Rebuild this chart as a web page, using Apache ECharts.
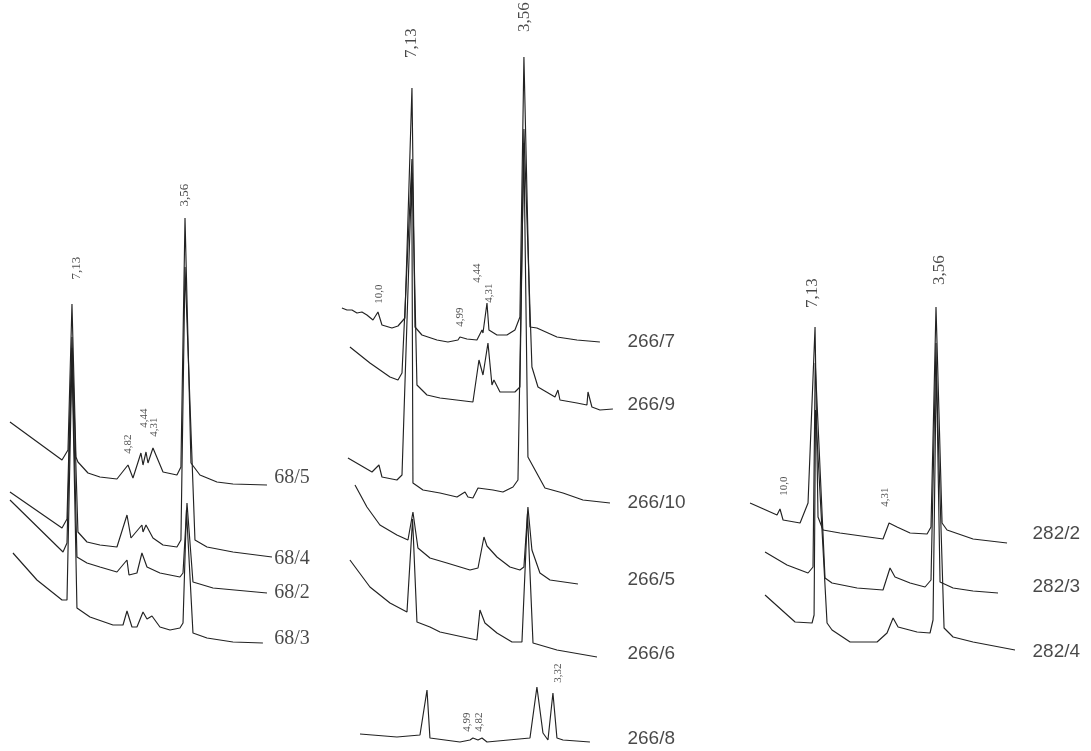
<!DOCTYPE html>
<html>
<head>
<meta charset="utf-8">
<script src="https://cdn.jsdelivr.net/npm/echarts@6/dist/echarts.min.js"></script>
<style>
  html, body { margin: 0; padding: 0; background: #fff; }
  #main { width: 1091px; height: 751px; }
</style>
</head>
<body>
<div id="main"></div>
<script>
// XRD patterns, x = 2theta (deg, CuKa), y = intensity (a.u.) above each trace's baseline

// ---- series 68 ----
const trace68_5 = [[5.55,63],[11.30,25],[11.96,35],[12.40,181],[12.84,28],[13.06,23],[14.17,12],[15.49,8],[17.37,6],[18.59,20],[19.14,7],[20.02,32],[20.25,20],[20.58,33],[20.80,22],[21.35,37],[22.46,13],[24.00,10],[24.44,18],[24.89,267],[25.55,22],[26.54,10],[28.42,3],[30.19,1],[33.95,0]];
const trace68_4 = [[5.55,65],[11.30,29],[11.85,38],[12.40,220],[13.06,25],[14.06,15],[15.49,12],[17.37,10],[18.48,42],[18.92,19],[20.13,32],[20.25,25],[20.58,32],[21.35,19],[22.46,12],[24.00,10],[24.44,17],[24.89,290],[25.99,17],[27.32,10],[30.19,5],[34.50,0]];
const trace68_2 = [[5.55,93],[11.41,41],[11.85,50],[12.40,245],[12.95,36],[14.06,30],[15.49,26],[17.37,21],[18.48,33],[18.70,18],[19.58,20],[20.13,40],[20.69,26],[22.12,20],[24.33,16],[24.67,20],[25.11,90],[25.77,11],[27.98,5],[33.95,0]];
const trace68_3 = [[5.88,90],[8.53,63],[11.30,43],[11.85,43],[12.40,285],[12.95,35],[14.39,26],[16.93,18],[18.04,18],[18.48,32],[19.03,16],[19.58,16],[20.25,31],[20.69,24],[21.24,27],[22.12,16],[23.23,13],[24.33,15],[24.67,20],[25.05,133],[25.77,10],[27.32,5],[30.19,1],[33.50,0]];

// ---- series 266 ----
const trace266_7 = [[4.53,34],[5.10,32],[5.66,32],[6.22,29],[6.78,30],[7.34,27],[8.02,22],[8.58,30],[9.03,17],[10.15,14],[10.83,16],[11.61,24],[12.40,254],[12.74,15],[13.52,7],[15.21,2],[16.44,0],[17.57,2],[17.79,5],[18.58,3],[19.70,2],[20.27,12],[20.38,9],[20.83,39],[21.05,12],[21.95,7],[23.07,7],[23.97,12],[24.53,25],[24.98,285],[25.66,15],[26.44,14],[28.69,5],[30.94,2],[33.52,0]];
const trace266_9 = [[5.43,62],[7.68,46],[9.93,32],[10.83,29],[11.28,36],[12.40,250],[12.96,24],[14.09,14],[15.55,11],[19.25,7],[19.93,49],[20.38,34],[20.94,66],[21.39,24],[21.61,29],[22.29,17],[23.97,17],[24.53,22],[24.98,280],[25.88,42],[26.56,22],[28.47,12],[28.80,19],[29.03,9],[30.94,6],[32.06,4],[32.18,17],[32.62,2],[33.52,-1],[34.98,0]];
const trace266_10 = [[5.21,45],[6.56,38],[7.91,31],[8.69,38],[9.03,26],[10.71,23],[11.28,28],[12.38,330],[12.51,20],[13.64,13],[15.55,10],[17.46,6],[18.36,11],[18.69,6],[19.25,5],[19.82,15],[21.50,13],[22.62,11],[23.75,16],[24.31,23],[24.97,360],[25.43,46],[27.34,15],[29.37,10],[31.61,3],[34.65,0]];
const trace266_5 = [[6.00,99],[7.34,77],[8.80,59],[10.71,49],[11.95,44],[12.51,72],[13.07,36],[14.42,26],[16.33,21],[18.92,14],[19.82,16],[20.49,47],[20.83,38],[21.95,27],[23.41,17],[24.53,14],[24.98,17],[25.43,77],[25.88,34],[26.78,11],[27.91,4],[31.05,0]];
const trace266_6 = [[5.43,97],[7.68,70],[9.93,54],[11.84,45],[12.47,138],[12.96,35],[14.42,30],[15.55,25],[19.70,17],[20.04,47],[20.60,34],[21.95,24],[23.64,15],[24.76,15],[25.38,143],[26.00,14],[28.69,7],[33.19,0]];
const trace266_8 = [[6.56,8],[10.71,5],[13.30,7],[14.09,52],[14.42,4],[17.79,0],[18.92,2],[19.25,4],[19.82,2],[20.27,4],[20.83,0],[25.66,4],[26.44,55],[27.12,9],[27.68,2],[28.24,49],[28.69,4],[29.37,2],[32.40,0]];

// ---- series 282 ----
const trace282_2 = [[5.63,40],[8.44,28],[8.75,34],[9.07,23],[10.84,20],[11.67,40],[12.40,216],[12.71,26],[13.23,13],[15.00,10],[19.48,4],[20.11,20],[20.94,16],[22.30,10],[24.07,9],[24.48,16],[25.00,236],[25.63,20],[26.15,13],[28.86,4],[32.40,0]];
const trace282_3 = [[7.19,41],[9.48,28],[11.67,20],[12.19,26],[12.42,230],[13.44,15],[14.17,10],[16.78,5],[19.48,3],[20.21,25],[20.73,16],[22.30,10],[23.86,6],[24.48,13],[25.00,250],[25.42,11],[26.78,5],[28.86,2],[31.46,0]];
const trace282_4 = [[7.19,55],[10.32,28],[12.09,27],[12.30,35],[12.45,240],[13.65,27],[14.17,20],[16.05,8],[18.86,8],[19.90,17],[20.53,32],[21.05,23],[23.03,18],[24.38,17],[24.69,30],[25.02,280],[25.84,22],[26.78,13],[28.86,8],[33.23,0]];

// sample names, stacking offsets and name-label heights (bottom trace first)
const names68 = ['68/3', '68/2', '68/4', '68/5'];
const offsets68 = [108, 158, 194, 266];
const nameY68 = [112, 158, 192, 273];
const traces68 = [trace68_3, trace68_2, trace68_4, trace68_5];

const names266 = ['266/8', '266/6', '266/5', '266/10', '266/9', '266/7'];
const offsets266 = [9, 94, 167, 248, 342, 409];
const nameY266 = [12, 97, 171, 248, 346, 409];
const traces266 = [trace266_8, trace266_6, trace266_5, trace266_10, trace266_9, trace266_7];

const names282 = ['282/4', '282/3', '282/2'];
const offsets282 = [101, 158, 208];
const nameY282 = [99, 164, 217];
const traces282 = [trace282_4, trace282_3, trace282_2];

// d-spacing annotations: [text, 2theta, height]
const bigPeaks68 = [['7,13', 12.95, 483], ['3,56', 24.89, 556]];
const smallPeaks68 = [['4,82', 18.59, 307], ['4,44', 20.36, 333], ['4,31', 21.46, 324]];
const bigPeaks266 = [['7,13', 12.40, 708], ['3,56', 25.10, 734]];
const smallPeaks266 = [['10,0', 8.69, 457], ['4,99', 17.79, 434], ['4,44', 19.70, 478], ['4,31', 21.05, 458], ['4,99', 18.58, 29], ['4,82', 19.93, 29], ['3,32', 28.80, 78]];
const bigPeaks282 = [['7,13', 12.19, 458], ['3,56', 25.32, 481]];
const smallPeaks282 = [['10,0', 9.17, 265], ['4,31', 19.69, 254]];

const nameX = [34.7, 36.56, 35.0];

const LINE = '#222';
const SERIF = '"Liberation Serif", "DejaVu Serif", serif';
const SANS = '"Liberation Sans", Arial, sans-serif';

const chart = echarts.init(document.getElementById('main'), null, { renderer: 'canvas' });

function traceSeries(panel, traces, offsets, names, fillSkip) {
  return traces.map((tr, i) => ({
    type: 'line',
    name: names[i],
    xAxisIndex: panel,
    yAxisIndex: panel,
    data: tr.map(p => [p[0], offsets[i] + p[1]]),
    symbol: 'none',
    silent: true,
    animation: false,
    lineStyle: { color: LINE, width: 1.15 },
    // each trace masks the traces below it (they disappear behind it)
    areaStyle: fillSkip.includes(names[i]) ? null : { color: '#fff', opacity: 1, origin: 'end' }
  }));
}

function labelSeries(panel, items, font, size, rotate, position) {
  return {
    type: 'scatter',
    xAxisIndex: panel,
    yAxisIndex: panel,
    data: items.map(d => [d[1], d[2], d[0]]),
    symbol: 'circle',
    symbolSize: 1,
    itemStyle: { color: 'rgba(0,0,0,0)' },
    silent: true,
    animation: false,
    clip: false,
    z: 10,
    label: {
      show: true,
      formatter: p => p.data[2],
      position: position,
      distance: 0,
      rotate: rotate,
      fontFamily: font,
      fontSize: size,
      color: '#1a1a1a'
    }
  };
}

function nameItems(names, ys, x) {
  return names.map((n, i) => [n, x, ys[i]]);
}

const H = 751;
const option = {
  backgroundColor: '#fff',
  animation: false,
  grid: [
    { left: 5, width: 271.5, top: 0, height: H },
    { left: 337.2, width: 302.6, top: 0, height: H },
    { left: 744, width: 297.6, top: 0, height: H }
  ],
  xAxis: [
    { type: 'value', gridIndex: 0, min: 5, max: 35, show: false },
    { type: 'value', gridIndex: 1, min: 4, max: 38, show: false },
    { type: 'value', gridIndex: 2, min: 5, max: 36, show: false }
  ],
  yAxis: [
    { type: 'value', gridIndex: 0, min: 0, max: H, show: false },
    { type: 'value', gridIndex: 1, min: 0, max: H, show: false },
    { type: 'value', gridIndex: 2, min: 0, max: H, show: false }
  ],
  series: [].concat(
    traceSeries(0, traces68, offsets68, names68, []),
    traceSeries(1, traces266, offsets266, names266, ['266/8']),
    traceSeries(2, traces282, offsets282, names282, []),
    [
      labelSeries(0, bigPeaks68, SERIF, 13, 90, 'inside'),
      labelSeries(0, smallPeaks68, SERIF, 11, 90, 'inside'),
      labelSeries(1, bigPeaks266, SERIF, 17, 90, 'inside'),
      labelSeries(1, smallPeaks266, SERIF, 11, 90, 'inside'),
      labelSeries(2, bigPeaks282, SERIF, 17, 90, 'inside'),
      labelSeries(2, smallPeaks282, SERIF, 11, 90, 'inside'),
      labelSeries(0, nameItems(names68, nameY68, nameX[0]), SERIF, 20, 0, 'right'),
      labelSeries(1, nameItems(names266, nameY266, nameX[1]), SANS, 19, 0, 'right'),
      labelSeries(2, nameItems(names282, nameY282, nameX[2]), SANS, 19, 0, 'right')
    ]
  )
};

chart.setOption(option);
</script>
</body>
</html>
